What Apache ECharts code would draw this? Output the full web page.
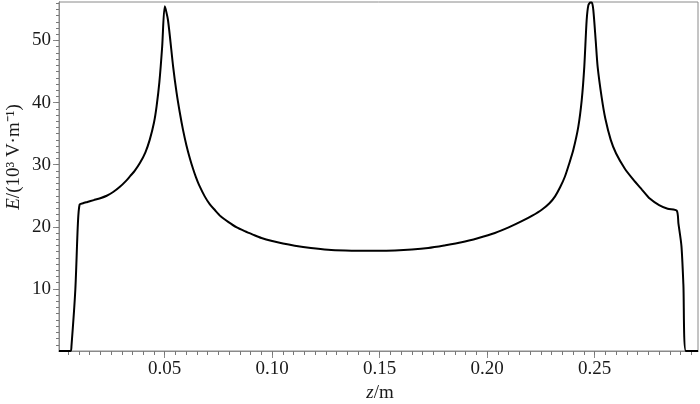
<!DOCTYPE html>
<html>
<head>
<meta charset="utf-8">
<script src="https://cdn.jsdelivr.net/npm/echarts@6/dist/echarts.min.js"></script>
<style>html,body{margin:0;padding:0;background:#fff}#c{width:700px;height:404px}</style>
</head>
<body>
<div id="c"></div>
<script>
// z positions (m)
var zValues = [
  0.0008, 0.0062, 0.0066, 0.0084, 0.0096, 0.0104, 0.0120, 0.0140, 0.0170, 0.0200,
  0.0230, 0.0260, 0.0290, 0.0320, 0.0340, 0.0360, 0.0385, 0.0410, 0.0430, 0.0450,
  0.0462, 0.0475, 0.0488, 0.0500, 0.0515, 0.0539, 0.0555, 0.0570, 0.0585, 0.0601,
  0.0617, 0.0632, 0.0645, 0.0660, 0.0686, 0.0710, 0.0733, 0.0760, 0.0795, 0.0835,
  0.0872, 0.0910, 0.0950, 0.1000, 0.1050, 0.1105, 0.1180, 0.1260, 0.1340, 0.1416,
  0.1490, 0.1571, 0.1650, 0.1726, 0.1800, 0.1881, 0.1960, 0.2036, 0.2100, 0.2161,
  0.2210, 0.2254, 0.2290, 0.2316, 0.2340, 0.2362, 0.2382, 0.2401, 0.2424, 0.2440,
  0.2452, 0.2463, 0.2471, 0.2480, 0.2487, 0.2494, 0.2505, 0.2514, 0.2533, 0.2550,
  0.2575, 0.2600, 0.2640, 0.2680, 0.2720, 0.2758, 0.2800, 0.2840, 0.2882,
  0.2890, 0.2904, 0.2913, 0.2925, 0.2981
];
// E values (10^3 V/m)
var eValues = [
  0, 0, 0.8, 9.9, 20.6, 23.6, 23.8, 24.0, 24.3, 24.6,
  25.0, 25.6, 26.4, 27.4, 28.2, 29.0, 30.3, 32.0, 34.0, 36.8,
  39.4, 43.3, 49.0, 55.5, 53.3, 45.8, 41.6, 38.4, 35.6, 33.1,
  31.0, 29.3, 28.0, 26.7, 24.9, 23.6, 22.7, 21.7, 20.8, 19.9,
  19.3, 18.75, 18.2, 17.7, 17.3, 16.96, 16.6, 16.32, 16.2, 16.16,
  16.15, 16.2, 16.35, 16.6, 17.0, 17.5, 18.2, 19.0, 19.9, 20.9,
  21.8, 22.75, 23.8, 24.9, 26.4, 28.1, 30.2, 32.4, 36.1, 40.4,
  45.8, 53.3, 55.7, 56.1, 56.1, 54.9, 50.0, 45.8, 40.8, 37.4,
  34.0, 31.8, 29.4, 27.6, 26.0, 24.5, 23.5, 22.9, 22.6,
  20.5, 16.9, 10.7, 0, 0
];
var xTickLabels = [0.05, 0.10, 0.15, 0.20, 0.25];
var yTickLabels = [10, 20, 30, 40, 50];

var xMinor = [];
for (var i = 1; i <= 59; i++) xMinor.push(+(i * 0.005).toFixed(3));
var yMinor = [];
for (var j = 1; j <= 56; j++) yMinor.push(j);

var data = zValues.map(function (z, k) { return [z, eValues[k]]; });

var serif = '"Liberation Serif", "Times New Roman", serif';
var axisGray = '#8a8a8a';
var xMin = 0.0008, xMax = 0.2981, yMin = 0, yMax = 56.2;

var chart = echarts.init(document.getElementById('c'), null, {renderer: 'canvas'});
chart.setOption({
  animation: false,
  backgroundColor: '#fff',
  grid: {left: 59, right: 2, top: 2, bottom: 53, show: true, borderColor: axisGray, borderWidth: 1, containLabel: false},
  xAxis: [{
    type: 'value', min: xMin, max: xMax, position: 'bottom', offset: 0,
    axisLine: {show: true, lineStyle: {color: axisGray, width: 1}},
    axisTick: {show: true, length: 7, customValues: xTickLabels, lineStyle: {color: axisGray}},
    axisLabel: {customValues: xTickLabels, color: '#1a1a1a', fontFamily: serif, fontSize: 19, margin: 9,
      formatter: function (v) { return v.toFixed(2); }},
    splitLine: {show: false}
  }, {
    type: 'value', min: xMin, max: xMax, position: 'bottom', offset: 0,
    axisLine: {show: true, lineStyle: {color: axisGray, width: 1}},
    axisTick: {show: true, length: 4, customValues: xMinor, lineStyle: {color: '#777'}},
    axisLabel: {show: false},
    splitLine: {show: false}
  }],
  yAxis: [{
    type: 'value', min: yMin, max: yMax, position: 'left', offset: 0,
    axisLine: {show: true, lineStyle: {color: axisGray, width: 1}},
    axisTick: {show: true, length: 6, customValues: yTickLabels, lineStyle: {color: axisGray}},
    axisLabel: {customValues: yTickLabels, color: '#1a1a1a', fontFamily: serif, fontSize: 19, margin: 8},
    splitLine: {show: false}
  }, {
    type: 'value', min: yMin, max: yMax, position: 'left', offset: 0,
    axisLine: {show: true, lineStyle: {color: axisGray, width: 1}},
    axisTick: {show: true, length: 3, customValues: yMinor, lineStyle: {color: '#777'}},
    axisLabel: {show: false},
    splitLine: {show: false}
  }],
  series: [{
    type: 'line', xAxisIndex: 0, yAxisIndex: 0, data: data,
    showSymbol: false, symbol: 'none', smooth: 0.25,
    lineStyle: {color: '#000', width: 2},
    clip: false
  }],
  graphic: [{
    type: 'text', x: 380, y: 393,
    style: {
      text: '{i|z}{n|/m}', align: 'center', verticalAlign: 'middle',
      rich: {
        i: {fontFamily: serif, fontSize: 19, fontStyle: 'italic', fill: '#1a1a1a'},
        n: {fontFamily: serif, fontSize: 19, fill: '#1a1a1a'}
      }
    }
  }, {
    type: 'text', x: 14, y: 157, rotation: Math.PI / 2,
    style: {
      text: '{i|E}{n|/(10³ V·m⁻¹)}', align: 'center', verticalAlign: 'middle',
      rich: {
        i: {fontFamily: serif, fontSize: 19, fontStyle: 'italic', fill: '#1a1a1a'},
        n: {fontFamily: serif, fontSize: 19, fill: '#1a1a1a'}
      }
    }
  }]
});
</script>
</body>
</html>
